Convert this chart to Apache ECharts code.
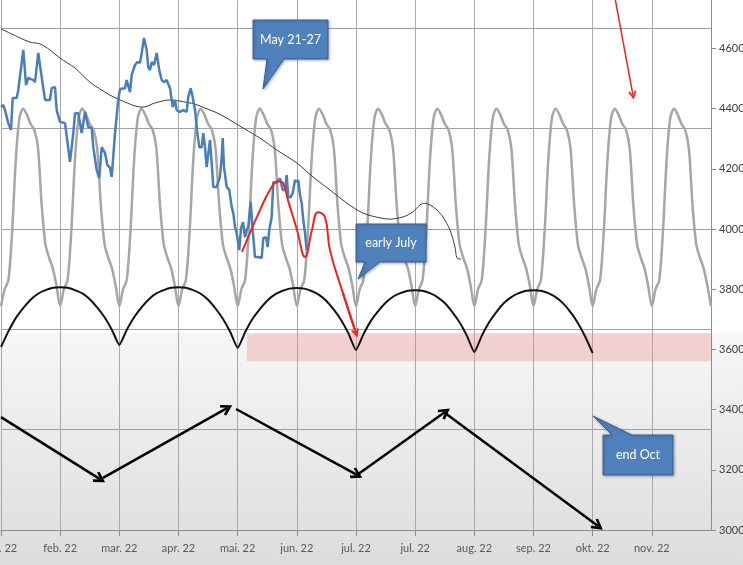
<!DOCTYPE html>
<html><head><meta charset="utf-8">
<script src="https://cdn.jsdelivr.net/npm/echarts@6/dist/echarts.min.js"></script>
<style>html,body{margin:0;padding:0;background:#fff}#c{width:743px;height:565px}</style>
</head><body><div id="c"></div>
<script>
// ---------- data ----------
const tickLabels = ['jan. 22','feb. 22','mar. 22','apr. 22','mai. 22','jun. 22','jul. 22','jul. 22','aug. 22','sep. 22','okt. 22','nov. 22'];

// grey cycle model (x step = 1/16 of a tick interval)
const cycleStep = 1/16;
const cycleValues = [
 3744,3800,3830,3990,4230,4370,4400,4380,4350,4330,4270,4080,3950,3905,3870,3812,
 3744,3800,3830,3990,4230,4370,4400,4380,4350,4330,4270,4080,3950,3905,3870,3812,
 3744,3800,3830,3990,4230,4370,4400,4380,4350,4330,4270,4080,3950,3905,3870,3812,
 3744,3800,3830,3990,4230,4370,4400,4380,4350,4330,4270,4080,3950,3905,3870,3812,
 3744,3800,3830,3990,4230,4370,4400,4380,4350,4330,4270,4080,3950,3905,3870,3812,
 3744,3800,3830,3990,4230,4370,4400,4380,4350,4330,4270,4080,3950,3905,3870,3812,
 3744,3800,3830,3990,4230,4370,4400,4380,4350,4330,4270,4080,3950,3905,3870,3812,
 3744,3800,3830,3990,4230,4370,4400,4380,4350,4330,4270,4080,3950,3905,3870,3812,
 3744,3800,3830,3990,4230,4370,4400,4380,4350,4330,4270,4080,3950,3905,3870,3812,
 3744,3800,3830,3990,4230,4370,4400,4380,4350,4330,4270,4080,3950,3905,3870,3812,
 3744,3800,3830,3990,4230,4370,4400,4380,4350,4330,4270,4080,3950,3905,3870,3812,
 3744,3800,3830,3990,4230,4370,4400,4380,4350,4330,4270,4080,3950,3905,3870,3812,
 3744
];

// black arches (x step = 1/8 of a tick interval)
const arcStep = 0.125;
const arcValues = [
 3608,3660,3704,3737,3765,3785,3797,3805,3807,3805,3797,3786,3767,3740,3707,3665,3615,
 3665,3707,3740,3767,3786,3797,3805,3807,3805,3797,3785,3765,3736,3702,3658,3605,
 3657,3701,3734,3762,3782,3794,3802,3804,3802,3794,3781,3761,3732,3697,3652,3598,
 3650,3694,3727,3755,3775,3787,3795,3797,3795,3787,3774,3754,3725,3690,3645,3591,
 3645,3690,3725,3754,3774,3787,3795,3797,3795,3787,3774,3753,3724,3688,3642,3588
];

// blue price line
const priceX = [0,0.039,0.068,0.123,0.169,0.198,0.265,0.292,0.377,0.423,0.461,0.546,0.575,0.630,0.688,0.744,0.828,0.857,0.913,0.941,0.997,1.082,1.166,1.222,1.251,1.306,1.364,1.420,1.475,1.533,1.560,1.617,1.661,1.702,1.758,1.797,1.842,1.871,1.927,1.982,2.011,2.096,2.124,2.180,2.209,2.265,2.304,2.349,2.378,2.417,2.462,2.489,2.518,2.547,2.586,2.631,2.675,2.716,2.755,2.800,2.856,2.902,2.941,2.969,3.025,3.081,3.138,3.165,3.206,3.240,3.279,3.318,3.351,3.392,3.419,3.448,3.476,3.532,3.561,3.588,3.645,3.701,3.730,3.747,3.769,3.814,3.858,3.899,3.926,3.955,3.983,4.027,4.056,4.090,4.124,4.152,4.179,4.220,4.254,4.293,4.348,4.406,4.433,4.479,4.507,4.534,4.575,4.602,4.659,4.715,4.761,4.800,4.828,4.856,4.896,4.930,4.969,4.997,5.025,5.053,5.082,5.109,5.138,5.166];
const priceY = [4405,4412,4395,4352,4329,4435,4435,4462,4595,4478,4502,4495,4488,4585,4505,4429,4429,4468,4472,4395,4356,4352,4223,4319,4385,4385,4319,4389,4339,4336,4272,4196,4169,4272,4253,4213,4203,4173,4319,4429,4465,4468,4495,4455,4512,4545,4555,4552,4585,4635,4595,4538,4528,4555,4545,4585,4528,4495,4488,4495,4468,4405,4429,4395,4389,4395,4389,4439,4468,4439,4395,4319,4272,4272,4319,4272,4206,4296,4219,4140,4140,4173,4239,4302,4206,4140,4130,4073,4053,4007,3987,3930,4003,4023,3973,3997,4007,4090,3997,3907,3907,3904,3970,3973,3940,3997,4040,4156,4153,4169,4130,4130,4179,4106,4106,4120,4163,4156,4163,4113,4086,4030,3987,3930];

// thin black moving average
const avgX = [0,0.321,0.490,0.659,0.828,0.997,1.251,1.504,1.842,2.011,2.265,2.400,2.603,2.856,3.025,3.279,3.448,3.617,3.786,3.955,4.124,4.377,4.665,5.003,5.273,5.560,5.848,6.118,6.405,6.574,6.794,6.963,7.081,7.166,7.250,7.369,7.470,7.588,7.673,7.707,7.774];
const avgY = [4665,4635,4621,4615,4595,4568,4535,4488,4445,4429,4409,4405,4419,4429,4425,4415,4402,4389,4372,4352,4332,4302,4262,4219,4173,4130,4086,4053,4037,4033,4040,4057,4080,4086,4080,4063,4040,3997,3940,3904,3900];

// red forecast path
const forecastX = [4.073,4.208,4.377,4.546,4.681,4.766,4.850,5.003,5.138,5.256,5.357,5.476,5.560,5.780,6.000];
const forecastY = [3924,3987,4063,4130,4159,4153,4096,3997,3907,3997,4056,4040,3930,3787,3654];

// black trend arrows [x1, y1, x2, y2]
const trendArrows = [[0,3375,1.673,3169],[1.724,3173,3.820,3405],[3.972,3402,6.017,3183],[6.017,3183,7.504,3392],[7.504,3389,10.090,3013]];
// red arrow at top right [x1, y1, x2, y2]
const topArrow = [10.377,4768,10.681,4445];
// pink target zone [x1, y1, x2, y2]
const targetZone = [4.157,3654,12,3561];

const calloutTexts = ['May 21-27','early July','end Oct'];

// ---------- chart ----------
const zip = (xs, ys) => xs.map((x, i) => [x, ys[i]]);
const FONT = "Lato,'Liberation Sans',sans-serif";
const chevron = 'path://M5,0 L10,8.6 L8.3,10 L5,4.4 L1.7,10 L0,8.6 Z';
const chart = echarts.init(document.getElementById('c'));
const calloutStyle = {fill:'#4f81bd', stroke:'#3a6298', lineWidth:1, shadowBlur:3, shadowColor:'rgba(0,0,0,0.3)', shadowOffsetX:1, shadowOffsetY:1};
const textStyle = (t) => ({text:t, fill:'#ffffff', font:"12.5px " + FONT, align:'center', verticalAlign:'middle'});

chart.setOption({
  animation: false,
  backgroundColor: {type:'linear', x:0, y:0, x2:0, y2:1, colorStops:[
    {offset:0, color:'#ffffff'}, {offset:0.586, color:'#ffffff'},
    {offset:0.592, color:'#f6f6f6'}, {offset:1, color:'#dddddd'}]},
  grid: {left:1, right:32, top:-3, bottom:35, containLabel:false, outerBoundsMode:'none'},
  xAxis: {
    type:'value', min:0, max:12, interval:1,
    axisLine:{show:true, lineStyle:{color:'#8c8c8c'}},
    axisTick:{show:true, length:6, lineStyle:{color:'#8c8c8c'}},
    axisLabel:{margin:13, color:'#595959', fontSize:11, fontFamily:FONT, showMaxLabel:false, hideOverlap:false,
      formatter:(v) => tickLabels[Math.round(v)] || ''},
    splitLine:{show:true, lineStyle:{color:'#a8a8a8', width:1}}
  },
  yAxis: [
    {type:'value', min:0, max:5.313, interval:1, position:'left',
     axisLine:{show:false}, axisTick:{show:false}, axisLabel:{show:false},
     splitLine:{show:true, lineStyle:{color:'#a0a0a0', width:1}}},
    {type:'value', min:3000, max:4771, interval:200, position:'right',
     axisLine:{show:true, lineStyle:{color:'#8c8c8c'}},
     axisTick:{show:true, length:5, lineStyle:{color:'#8c8c8c'}},
     axisLabel:{showMaxLabel:false, margin:8, color:'#404040', fontSize:11, fontFamily:FONT,
       formatter:(v) => String(Math.round(v))},
     splitLine:{show:false}}
  ],
  series: [
    {type:'line', yAxisIndex:1, data: cycleValues.map((v,i) => [i*cycleStep, v]),
     symbol:'none', smooth:0.3, lineStyle:{color:'#a6a6a6', width:2.5}, z:2,
     markArea:{silent:true, itemStyle:{color:'rgba(240,135,135,0.32)'},
       data:[[{coord:[targetZone[0], targetZone[1]]},{coord:[targetZone[2], targetZone[3]]}]]}},
    {type:'line', yAxisIndex:1, data: zip(avgX, avgY), symbol:'none', smooth:0.3,
     lineStyle:{color:'#3c3c3c', width:1}, z:3},
    {type:'line', yAxisIndex:1, data: zip(priceX, priceY), symbol:'none',
     lineStyle:{color:'#4a7ebb', width:2.5}, z:4},
    {type:'line', yAxisIndex:1, data: arcValues.map((v,i) => [i*arcStep, v]), symbol:'none',
     smooth:0.15, lineStyle:{color:'#111111', width:2}, z:5},
    {type:'line', yAxisIndex:1, data: zip(forecastX, forecastY), symbol:'none', smooth:0.45,
     lineStyle:{color:'#e8261e', width:2}, z:6,
     markLine:{silent:true, symbol:['none', chevron], symbolSize:[8,9], label:{show:false},
       lineStyle:{color:'#e8261e', width:2, type:'solid'},
       data:[[{coord:[forecastX[forecastX.length-2], forecastY[forecastY.length-2]]},
              {coord:[forecastX[forecastX.length-1], forecastY[forecastY.length-1]]}]]}},
    {type:'line', yAxisIndex:1, data:[], z:7,
     markLine:{silent:true, symbol:['none', chevron], symbolSize:[12,12], label:{show:false},
       lineStyle:{color:'#000000', width:2.5, type:'solid'},
       data: trendArrows.map(a => [{coord:[a[0], a[1]]},{coord:[a[2], a[3]]}])}},
    {type:'line', yAxisIndex:1, data:[], z:7,
     markLine:{silent:true, symbol:['none', chevron], symbolSize:[8,9], label:{show:false},
       lineStyle:{color:'#e8261e', width:1.5, type:'solid'},
       data:[[{coord:[topArrow[0], topArrow[1]]},{coord:[topArrow[2], topArrow[3]]}]]}}
  ],
  graphic: [
    {type:'polygon', z:100, shape:{points:[[253,20],[328,20],[328,59],[284,59],[263,89],[267,59],[253,59]]}, style:calloutStyle},
    {type:'text', z:101, x:290.5, y:40, style:textStyle(calloutTexts[0])},
    {type:'polygon', z:100, shape:{points:[[356,224],[426,224],[426,262],[380,262],[358,279],[365,262],[356,262]]}, style:calloutStyle},
    {type:'text', z:101, x:391, y:243, style:textStyle(calloutTexts[1])},
    {type:'polygon', z:100, shape:{points:[[603,435],[612,435],[593,416],[632,435],[673,435],[673,475],[603,475]]}, style:calloutStyle},
    {type:'text', z:101, x:638, y:455, style:textStyle(calloutTexts[2])}
  ]
});
</script>
</body></html>
